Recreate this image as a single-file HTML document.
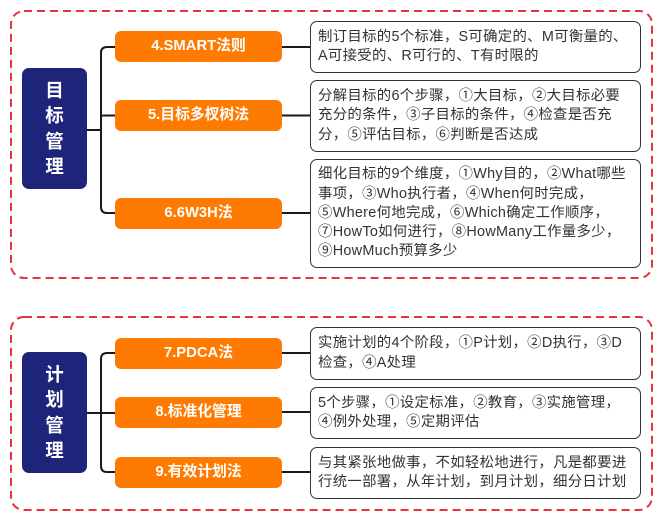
<!DOCTYPE html>
<html><head><meta charset="utf-8">
<style>
html,body{margin:0;padding:0;background:#fff;}
body{width:662px;height:532px;position:relative;overflow:hidden;font-family:"Liberation Sans","Noto Sans CJK SC",sans-serif;}
.nav{position:absolute;left:22px;width:65px;background:#1d2479;border-radius:7px;color:#fff;font-weight:bold;font-size:18.5px;line-height:25.5px;text-align:center;display:flex;flex-direction:column;justify-content:center;align-items:center;}
.or{position:absolute;left:115px;width:167px;height:31px;background:#ff7a00;border-radius:6px;color:#fff;font-weight:bold;font-size:14.8px;line-height:31px;text-align:center;}
.tb{position:absolute;left:310px;width:331px;border:1.3px solid #333;border-radius:7px;color:#333;font-size:14.4px;line-height:19.3px;letter-spacing:0.3px;padding:0 0 0 7px;box-sizing:border-box;display:flex;align-items:center;white-space:nowrap;}
svg{position:absolute;left:0;top:0;}
</style></head><body>
<svg width="662" height="532" viewBox="0 0 662 532">
<rect x="11" y="11" width="641" height="267" rx="13" ry="13" fill="none" stroke="#e8323c" stroke-width="2" stroke-dasharray="8,5"/>
<rect x="11" y="317" width="641" height="193" rx="13" ry="13" fill="none" stroke="#e8323c" stroke-width="2" stroke-dasharray="8,5"/>
<g fill="none" stroke="#1a1a1a" stroke-width="2">
<path d="M87 130 H101"/>
<path d="M115 47 H107 Q101 47 101 53 V207 Q101 213 107 213 H115"/>
<path d="M101 116 Q101 115.5 105 115.5 H115"/>
<path d="M282 47 H310"/>
<path d="M282 115.5 H310"/>
<path d="M282 213 H310"/>
<path d="M87 413 H115"/>
<path d="M115 353 H107 Q101 353 101 359 V466 Q101 472 107 472 H115"/>
<path d="M282 353 H310"/>
<path d="M282 412 H310"/>
<path d="M282 472 H310"/>
</g>
</svg>

<div class="nav" style="top:68px;height:121px;"><div>目</div><div>标</div><div>管</div><div>理</div></div>
<div class="nav" style="top:352px;height:121px;"><div>计</div><div>划</div><div>管</div><div>理</div></div>

<div class="or" style="top:31px;">4.SMART法则</div>
<div class="or" style="top:100px;">5.目标多杈树法</div>
<div class="or" style="top:198px;">6.6W3H法</div>
<div class="or" style="top:338px;">7.PDCA法</div>
<div class="or" style="top:397px;">8.标准化管理</div>
<div class="or" style="top:457px;">9.有效计划法</div>

<div class="tb" style="top:21px;height:52px;"><div>制订目标的5个标准，S可确定的、M可衡量的、<br>A可接受的、R可行的、T有时限的</div></div>
<div class="tb" style="top:80px;height:72px;"><div>分解目标的6个步骤，①大目标，②大目标必要<br>充分的条件，③子目标的条件，④检查是否充<br>分，⑤评估目标，⑥判断是否达成</div></div>
<div class="tb" style="top:159px;height:109px;"><div>细化目标的9个维度，①Why目的，②What哪些<br>事项，③Who执行者，④When何时完成，<br>⑤Where何地完成，⑥Which确定工作顺序，<br>⑦HowTo如何进行，⑧HowMany工作量多少，<br>⑨HowMuch预算多少</div></div>

<div class="tb" style="top:327px;height:53px;"><div>实施计划的4个阶段，①P计划，②D执行，③D<br>检查，④A处理</div></div>
<div class="tb" style="top:387px;height:52px;"><div>5个步骤，①设定标准，②教育，③实施管理，<br>④例外处理，⑤定期评估</div></div>
<div class="tb" style="top:447px;height:52px;"><div>与其紧张地做事，不如轻松地进行，凡是都要进<br>行统一部署，从年计划，到月计划，细分日计划</div></div>
</body></html>
